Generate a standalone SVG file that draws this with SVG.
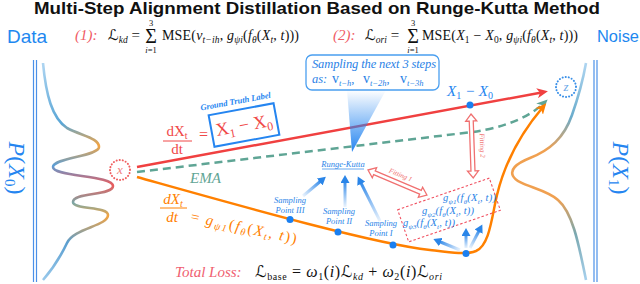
<svg xmlns="http://www.w3.org/2000/svg" width="640" height="284" viewBox="0 0 640 284">
<defs>
<style>
.m{font-family:"Liberation Serif","DejaVu Serif","DejaVu Sans",serif;}
.it{font-style:italic}
.blue{fill:#2585f0}
.sblue{fill:#2a82e6}
.red{fill:#f04848}
.org{fill:#ff8000}
.lbl{font-family:"Liberation Serif","DejaVu Serif",serif;font-style:italic;font-size:8.5px;fill:#2a85e8;text-anchor:middle}
.dot{fill:#1a7ff0}
.fit{fill:#fff;stroke:#f07070;stroke-width:1.3}
.fitt{font-family:"Liberation Serif","DejaVu Serif",serif;font-style:italic;font-size:7px;fill:#f07070;text-anchor:middle}
</style>
<linearGradient id="gL" gradientUnits="userSpaceOnUse" x1="0" y1="62" x2="0" y2="282">
<stop offset="0" stop-color="#b0d6f2"/>
<stop offset="0.28" stop-color="#5aa6d6"/>
<stop offset="0.38" stop-color="#f5a440"/>
<stop offset="0.47" stop-color="#5a9ed6"/>
<stop offset="0.56" stop-color="#ec5a5a"/>
<stop offset="0.64" stop-color="#7aa8a8"/>
<stop offset="0.70" stop-color="#f5a440"/>
<stop offset="0.82" stop-color="#5a9ed0"/>
<stop offset="1" stop-color="#9ccbec"/>
</linearGradient>
<linearGradient id="gR" gradientUnits="userSpaceOnUse" x1="0" y1="62" x2="0" y2="282">
<stop offset="0" stop-color="#b0d6f2"/>
<stop offset="0.25" stop-color="#6aaccc"/>
<stop offset="0.4" stop-color="#f0a050"/>
<stop offset="0.62" stop-color="#f0a050"/>
<stop offset="0.78" stop-color="#7aa8b0"/>
<stop offset="1" stop-color="#a8d2f0"/>
</linearGradient>
<linearGradient id="gTri" x1="0" y1="0" x2="0" y2="1">
<stop offset="0" stop-color="#2585f0" stop-opacity="0"/>
<stop offset="1" stop-color="#2585f0" stop-opacity="1"/>
</linearGradient>
<linearGradient id="a1" gradientUnits="userSpaceOnUse" x1="303" y1="196" x2="322" y2="180"><stop offset="0" stop-color="#2a85e8" stop-opacity="0.1"/><stop offset="1" stop-color="#2a85e8"/></linearGradient>
<linearGradient id="a2" gradientUnits="userSpaceOnUse" x1="345" y1="207" x2="345" y2="180"><stop offset="0" stop-color="#2a85e8" stop-opacity="0.1"/><stop offset="1" stop-color="#2a85e8"/></linearGradient>
<linearGradient id="a3" gradientUnits="userSpaceOnUse" x1="380" y1="221" x2="360" y2="181"><stop offset="0" stop-color="#2a85e8" stop-opacity="0.1"/><stop offset="1" stop-color="#2a85e8"/></linearGradient>
<linearGradient id="b1" gradientUnits="userSpaceOnUse" x1="460" y1="250" x2="438" y2="241"><stop offset="0" stop-color="#2a85e8" stop-opacity="0.1"/><stop offset="1" stop-color="#2a85e8"/></linearGradient>
<linearGradient id="b2" gradientUnits="userSpaceOnUse" x1="466" y1="248" x2="466" y2="233"><stop offset="0" stop-color="#2a85e8" stop-opacity="0.1"/><stop offset="1" stop-color="#2a85e8"/></linearGradient>
<linearGradient id="b3" gradientUnits="userSpaceOnUse" x1="470" y1="248" x2="480" y2="229"><stop offset="0" stop-color="#2a85e8" stop-opacity="0.1"/><stop offset="1" stop-color="#2a85e8"/></linearGradient>
<marker id="mRed" markerUnits="userSpaceOnUse" markerWidth="12" markerHeight="10" refX="6" refY="5" orient="auto"><path d="M0,0 L11,5 L0,10 L3,5 z" fill="#f04040"/></marker>
<marker id="mTeal" markerUnits="userSpaceOnUse" markerWidth="12" markerHeight="10" refX="6" refY="5" orient="auto"><path d="M0,0 L11,5 L0,10 L3,5 z" fill="#5fa595"/></marker>
<marker id="mOrg" markerUnits="userSpaceOnUse" markerWidth="12" markerHeight="10" refX="6" refY="5" orient="auto"><path d="M0,0 L11,5 L0,10 L3,5 z" fill="#ff8000"/></marker>
<marker id="mBlue" markerUnits="userSpaceOnUse" markerWidth="9" markerHeight="9" refX="3" refY="4.5" orient="auto"><path d="M0,0 L8,4.5 L0,9 z" fill="#2a85e8"/></marker>
</defs>
<rect width="640" height="284" fill="#fff"/>

<g id="title">
<text x="34" y="14" font-family="'Liberation Sans','DejaVu Sans',sans-serif" font-weight="bold" font-size="17" textLength="566" lengthAdjust="spacingAndGlyphs" fill="#111">Multi-Step Alignment Distillation Based on Runge-Kutta Method</text>
</g>

<g id="header">
<text x="7" y="43" font-family="'Liberation Sans','DejaVu Sans',sans-serif" font-size="19" fill="#1e88f0">Data</text>
<text x="597" y="42" font-family="'Liberation Sans','DejaVu Sans',sans-serif" font-size="17" textLength="42" lengthAdjust="spacingAndGlyphs" fill="#1e88f0">Noise</text>
</g>

<g id="formula-kd">
<text class="m it" x="75" y="40" font-size="15" fill="#f05a64">(1):</text>
<text class="m" x="108" y="40" font-size="15" fill="#111">ℒ<tspan dy="3" font-size="9.5" font-style="italic">kd</tspan><tspan dy="-3"> =</tspan></text>
<text class="m" x="151" y="43" font-size="20" text-anchor="middle" fill="#111">Σ</text>
<text class="m" x="151" y="26" font-size="8.5" text-anchor="middle" fill="#111">3</text>
<text class="m" x="151" y="53" font-size="8.5" text-anchor="middle" fill="#111"><tspan font-style="italic">i</tspan>=1</text>
<text class="m" x="162" y="40" font-size="14" textLength="137" lengthAdjust="spacing" fill="#111">MSE(<tspan class="it">v</tspan><tspan dy="3" font-size="9.5" class="it">t−ih</tspan><tspan dy="-3">, </tspan><tspan class="it">g</tspan><tspan dy="3" font-size="9.5" class="it">ψi</tspan><tspan dy="-3">(</tspan><tspan class="it">f</tspan><tspan dy="3" font-size="9.5" class="it">θ</tspan><tspan dy="-3">(</tspan><tspan class="it">X</tspan><tspan dy="3" font-size="9.5" class="it">t</tspan><tspan dy="-3">, </tspan><tspan class="it">t</tspan>)))</text>
</g>

<g id="formula-ori">
<text class="m it" x="333" y="40" font-size="15" fill="#f05a64">(2):</text>
<text class="m" x="365" y="40" font-size="15" fill="#111">ℒ<tspan dy="3" font-size="9.5" font-style="italic">ori</tspan><tspan dy="-3"> =</tspan></text>
<text class="m" x="413" y="43" font-size="20" text-anchor="middle" fill="#111">Σ</text>
<text class="m" x="413" y="26" font-size="8.5" text-anchor="middle" fill="#111">3</text>
<text class="m" x="413" y="53" font-size="8.5" text-anchor="middle" fill="#111"><tspan font-style="italic">i</tspan>=1</text>
<text class="m" x="422" y="40" font-size="14" textLength="156" lengthAdjust="spacing" fill="#111">MSE(<tspan class="it">X</tspan><tspan dy="3" font-size="9.5">1</tspan><tspan dy="-3"> − </tspan><tspan class="it">X</tspan><tspan dy="3" font-size="9.5">0</tspan><tspan dy="-3">, </tspan><tspan class="it">g</tspan><tspan dy="3" font-size="9.5" class="it">ψi</tspan><tspan dy="-3">(</tspan><tspan class="it">f</tspan><tspan dy="3" font-size="9.5" class="it">θ</tspan><tspan dy="-3">(</tspan><tspan class="it">X</tspan><tspan dy="3" font-size="9.5" class="it">t</tspan><tspan dy="-3">, </tspan><tspan class="it">t</tspan>)))</text>
</g>

<g id="data-distribution">
<line x1="33.5" y1="60" x2="33.5" y2="282" stroke="#4a90e8" stroke-width="1.2"/>
<line x1="36.5" y1="60" x2="36.5" y2="282" stroke="#4a90e8" stroke-width="1.2"/>
<path d="M43,63 C46,95 52,118 67,128 C82,136 99,138 99,147 C99,156 53,158 53,167 C53,177 113,175 113,186 C113,196 73,192 73,202 C73,210 108,206 108,215 C108,226 74,228 67,243 C58,262 50,272 43,280" fill="none" stroke="url(#gL)" stroke-width="2.6"/>
<text class="m blue" transform="translate(9,168) rotate(90)" font-size="24" text-anchor="middle"><tspan font-style="italic">P</tspan>(<tspan font-style="italic">X</tspan><tspan dy="4" font-size="15">0</tspan><tspan dy="-4">)</tspan></text>
</g>

<g id="noise-distribution">
<line x1="594" y1="60" x2="594" y2="282" stroke="#4a90e8" stroke-width="1.2"/>
<line x1="597" y1="60" x2="597" y2="282" stroke="#4a90e8" stroke-width="1.2"/>
<path d="M586,63 C583,80 578,98 572,115 C564,138 550,150 530,158 C515,164 510,170 513,176 C518,186 545,188 558,200 C572,212 578,240 586,280" fill="none" stroke="url(#gR)" stroke-width="2.6"/>
<text class="m blue" transform="translate(613,168) rotate(90)" font-size="24" text-anchor="middle"><tspan font-style="italic">P</tspan>(<tspan font-style="italic">X</tspan><tspan dy="4" font-size="15">1</tspan><tspan dy="-4">)</tspan></text>
</g>

<g id="node-x">
<circle cx="120" cy="170" r="10" fill="#fff" stroke="#f06060" stroke-width="2" stroke-dasharray="0.1 3" stroke-linecap="round"/>
<text class="m it" x="120" y="174" font-size="13" text-anchor="middle" fill="#f08080">x</text>
</g>

<g id="node-z">
<circle cx="566" cy="87" r="10" fill="#fff" stroke="#3a90e8" stroke-width="2" stroke-dasharray="0.1 3" stroke-linecap="round"/>
<text class="m it" x="566" y="91" font-size="13" text-anchor="middle" fill="#6aa8e8">z</text>
</g>

<g id="connectors">
<line x1="137" y1="167" x2="543" y2="92.2" stroke="#f04040" stroke-width="2.5" marker-end="url(#mRed)"/>
<path d="M137,172 L460,133.5 C495,130 525,121 544,103" fill="none" stroke="#5fa595" stroke-width="2.5" stroke-dasharray="8 5" marker-end="url(#mTeal)"/>
<path d="M137,177 C230,203 370,243 430,250 C450,252.5 466,255 476,251 C490,245 492,215 497,195 C503,170 515,140 543,107" fill="none" stroke="#ff8000" stroke-width="2.5" marker-end="url(#mOrg)"/>
<line x1="303" y1="196" x2="322" y2="180" stroke="url(#a1)" stroke-width="3" marker-end="url(#mBlue)"/>
<line x1="345" y1="207" x2="345" y2="180" stroke="url(#a2)" stroke-width="3" marker-end="url(#mBlue)"/>
<line x1="380" y1="221" x2="360" y2="181" stroke="url(#a3)" stroke-width="3" marker-end="url(#mBlue)"/>
<line x1="460" y1="250" x2="438" y2="241" stroke="url(#b1)" stroke-width="3" marker-end="url(#mBlue)"/>
<line x1="466" y1="248" x2="466" y2="233" stroke="url(#b2)" stroke-width="3" marker-end="url(#mBlue)"/>
<line x1="470" y1="248" x2="480" y2="229" stroke="url(#b3)" stroke-width="3" marker-end="url(#mBlue)"/>
<g id="fitting-1" transform="translate(368,170) rotate(23)">
<path class="fit" d="M0,0 L7,-5.5 L7,-2 L57,-2 L57,-5.5 L64,0 L57,5.5 L57,2 L7,2 L7,5.5 Z"/>
<text class="fitt" x="32" y="-6">Fitting 1</text>
</g>
<g id="fitting-2" transform="translate(471,114) rotate(88)">
<path class="fit" d="M0,0 L7,-5.5 L7,-2 L57,-2 L57,-5.5 L64,0 L57,5.5 L57,2 L7,2 L7,5.5 Z"/>
<text class="fitt" x="32" y="-8">Fitting 2</text>
</g>
</g>

<g id="node-red-label">
<text class="m red" x="177" y="136" font-size="15" text-anchor="middle">dX<tspan dy="3" font-size="10">t</tspan></text>
<line x1="163" y1="141" x2="192" y2="141" stroke="#f04848" stroke-width="1"/>
<text class="m red" x="177" y="154" font-size="15" text-anchor="middle">dt</text>
<text class="m red" x="199" y="140" font-size="16">=</text>
</g>

<g id="node-ground-truth" transform="rotate(-10.5 244 125)">
<rect x="211" y="109" width="66" height="32" fill="none" stroke="#2585f0" stroke-width="2"/>
<text class="m red" x="244" y="131" font-size="18" text-anchor="middle">X<tspan dy="4" font-size="12">1</tspan><tspan dy="-4"> − X</tspan><tspan dy="4" font-size="12">0</tspan></text>
<text class="m" x="240" y="103" font-size="8.5" font-style="italic" font-weight="bold" text-anchor="middle" fill="#2585f0">Ground Truth Label</text>
</g>

<g id="node-ema">
<text class="m it" x="190" y="183" font-size="15" fill="#5fa595">EMA</text>
</g>

<g id="node-orange-label">
<text class="m it org" x="173" y="204" font-size="15" text-anchor="middle">dX<tspan dy="3" font-size="10">t</tspan></text>
<line x1="160" y1="208" x2="187" y2="208" stroke="#ff8000" stroke-width="1"/>
<text class="m it org" x="172" y="222" font-size="15" text-anchor="middle">dt</text>
<text class="m org" transform="rotate(12 190 221)" x="190" y="221" font-size="15" textLength="108" lengthAdjust="spacing">= <tspan class="it">g</tspan><tspan dy="3" font-size="10" class="it">ψ1</tspan><tspan dy="-3">(</tspan><tspan class="it">f</tspan><tspan dy="3" font-size="10" class="it">θ</tspan><tspan dy="-3">(</tspan><tspan class="it">X</tspan><tspan dy="3" font-size="10" class="it">t</tspan><tspan dy="-3">, </tspan><tspan class="it">t</tspan>))</text>
</g>

<g id="node-sampling-box">
<polygon points="347,90 386,90 352,152" fill="url(#gTri)"/>
<rect x="306" y="55" width="133" height="35" rx="6" fill="#fff" stroke="#4a9ff0" stroke-width="1.3"/>
<text class="m it sblue" x="312" y="68" font-size="12.5" textLength="124" lengthAdjust="spacing">Sampling the next 3 steps</text>
<text class="m sblue" x="312" y="83" font-size="12.5"><tspan font-style="italic">as:</tspan><tspan x="332" font-size="14">v</tspan><tspan dy="3" font-size="8.5" font-style="italic">t−h</tspan><tspan dy="-3">,</tspan><tspan x="363" font-size="14">v</tspan><tspan dy="3" font-size="8.5" font-style="italic">t−2h</tspan><tspan dy="-3">,</tspan><tspan x="400" font-size="14">v</tspan><tspan dy="3" font-size="8.5" font-style="italic">t−3h</tspan></text>
</g>

<g id="node-runge-kutta">
<text class="lbl" x="343" y="167" font-size="8.5">Runge-Kutta</text>
<line x1="322" y1="169" x2="364" y2="169" stroke="#2a85e8" stroke-width="0.7"/>
</g>

<g id="node-sampling-point-3">
<text class="lbl" x="290" y="203">Sampling</text>
<text class="lbl" x="290" y="213">Point III</text>
<circle class="dot" cx="290" cy="219.5" r="3.5"/>
</g>
<g id="node-sampling-point-2">
<text class="lbl" x="339" y="214">Sampling</text>
<text class="lbl" x="339" y="224">Point II</text>
<circle class="dot" cx="338" cy="232" r="3.5"/>
</g>
<g id="node-sampling-point-1">
<text class="lbl" x="381" y="226">Sampling</text>
<text class="lbl" x="381" y="236">Point I</text>
<circle class="dot" cx="393" cy="245" r="3.5"/>
</g>
<g id="node-end-point">
<circle class="dot" cx="466" cy="253.5" r="3.5"/>
</g>
<g id="node-target-point">
<circle class="dot" cx="470" cy="105" r="3.5"/>
<text class="m it blue" x="447" y="96" font-size="15">X<tspan dy="3" font-size="10" font-style="normal">1</tspan><tspan dy="-3"> − X</tspan><tspan dy="3" font-size="10" font-style="normal">0</tspan></text>
</g>

<g id="node-g-box">
<rect x="400.5" y="193" width="97" height="34" fill="none" stroke="#f05060" stroke-width="1.1" stroke-dasharray="2.5 2" transform="rotate(-19 449 210)"/>
<text class="m it sblue" x="443" y="201" font-size="10.5" textLength="53" lengthAdjust="spacing">g<tspan dy="2.5" font-size="7">ψ1</tspan><tspan dy="-2.5">(f</tspan><tspan dy="2.5" font-size="7">θ</tspan><tspan dy="-2.5">(X</tspan><tspan dy="2.5" font-size="7">t</tspan><tspan dy="-2.5">, t))</tspan></text>
<text class="m it sblue" x="422" y="214" font-size="10.5" textLength="52" lengthAdjust="spacing">g<tspan dy="2.5" font-size="7">ψ2</tspan><tspan dy="-2.5">(f</tspan><tspan dy="2.5" font-size="7">θ</tspan><tspan dy="-2.5">(X</tspan><tspan dy="2.5" font-size="7">t</tspan><tspan dy="-2.5">, t))</tspan></text>
<text class="m it sblue" x="403" y="226" font-size="10.5" textLength="52" lengthAdjust="spacing">g<tspan dy="2.5" font-size="7">ψ3</tspan><tspan dy="-2.5">(f</tspan><tspan dy="2.5" font-size="7">θ</tspan><tspan dy="-2.5">(X</tspan><tspan dy="2.5" font-size="7">t</tspan><tspan dy="-2.5">, t))</tspan></text>
</g>

<g id="total-loss">
<text class="m it" x="175" y="277" font-size="15" fill="#f06070">Total Loss:</text>
<text class="m" x="255" y="277" font-size="16" textLength="187" lengthAdjust="spacing" fill="#111">ℒ<tspan dy="3" font-size="10">base</tspan><tspan dy="-3"> = </tspan><tspan class="it">ω</tspan><tspan dy="3" font-size="10">1</tspan><tspan dy="-3">(</tspan><tspan class="it">i</tspan>)ℒ<tspan dy="3" font-size="10" class="it">kd</tspan><tspan dy="-3"> + </tspan><tspan class="it">ω</tspan><tspan dy="3" font-size="10">2</tspan><tspan dy="-3">(</tspan><tspan class="it">i</tspan>)ℒ<tspan dy="3" font-size="10" class="it">ori</tspan></text>
</g>
</svg>
